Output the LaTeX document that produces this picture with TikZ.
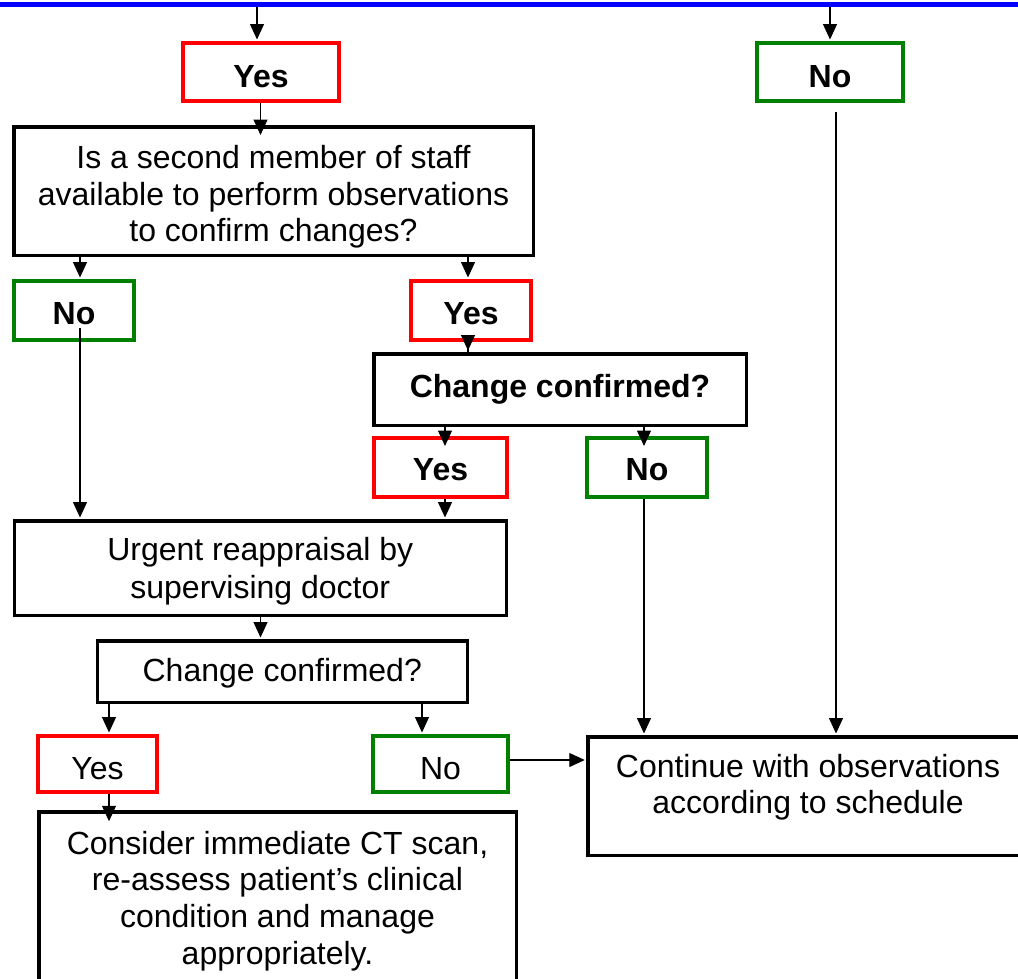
\documentclass[tikz,border=0pt]{standalone}
\usepackage{fontspec}
\setmainfont{Liberation Sans}
\usetikzlibrary{arrows.meta,calc}
\definecolor{fcred}{RGB}{255,0,0}
\definecolor{fcgreen}{RGB}{0,128,0}
\definecolor{fcblue}{RGB}{0,0,255}
\begin{document}
\begin{tikzpicture}[x=1pt,y=-1pt,
  every node/.style={inner sep=0pt, align=center, font=\fontsize{32}{36}\selectfont},
  boldtext/.style={font=\fontsize{32}{36}\selectfont\bfseries},
  blackbox/.style={draw=black, line width=3.5pt, rectangle},
  yesbox/.style={draw=fcred, line width=4pt, rectangle},
  nobox/.style={draw=fcgreen, line width=4pt, rectangle},
  conn/.style={line width=1.2pt, shorten >=1.5pt, -{Triangle[length=15.5pt,width=14pt]}},
  deepconn/.style={conn, shorten >=-10pt},
]
\useasboundingbox (0,0) rectangle (1018,978);
\clip (0,0) rectangle (1018,978);
\fill[fcblue] (0,1.5) rectangle (1018,7);

% top-level answers
\node[yesbox, boldtext, minimum width=156pt, minimum height=58pt, text height=31pt] (yes1) at (261,72) {Yes};
\node[nobox, boldtext, minimum width=146pt, minimum height=58pt, text height=31pt] (no1) at (830,72) {No};

% question
\node[blackbox, minimum width=519.5pt, minimum height=128.5pt, text height=108pt,
      font=\fontsize{32}{36.5}\selectfont] (Q) at (273.5,191)
  {Is a second member of staff\\available to perform observations\\to confirm changes?};

\node[nobox, boldtext, minimum width=120pt, minimum height=59pt, text height=29pt] (no2) at (74,310.5) {No};
\node[yesbox, boldtext, minimum width=120pt, minimum height=59pt, text height=29pt] (yes2) at (471,310.5) {Yes};

\node[blackbox, boldtext, minimum width=372.5pt, minimum height=71.5pt] (cc1) at (560,389.5) {Change confirmed?};

\node[yesbox, boldtext, minimum width=133pt, minimum height=59pt, text height=27pt] (yes3) at (440.5,467.5) {Yes};
\node[nobox, boldtext, minimum width=120pt, minimum height=59pt, text height=27pt] (no3) at (647,467.5) {No};

\node[blackbox, minimum width=492pt, minimum height=94.5pt, text height=67pt,
      font=\fontsize{32}{37.5}\selectfont] (urgent) at (260.25,568)
  {Urgent reappraisal by\\supervising doctor};

\node[blackbox, minimum width=370pt, minimum height=61.5pt, text height=26pt] (cc2) at (282.25,671.5) {Change confirmed?};

\node[yesbox, minimum width=119pt, minimum height=56pt, text height=31pt] (yes4) at (97.5,764) {Yes};
\node[nobox, minimum width=135pt, minimum height=56pt, text height=31pt] (no4) at (440.5,764) {No};

\node[blackbox, minimum width=440pt, minimum height=118.5pt, text depth=24pt] (cont) at (808,796)
  {Continue with observations\\according to schedule};

\node[blackbox, minimum width=477.5pt, minimum height=178pt,
      font=\fontsize{32}{36.7}\selectfont] (consider) at (277.5,901)
  {Consider immediate CT scan,\\re-assess patient’s clinical\\condition and manage\\appropriately.};

% helper coordinates for connector positions
\coordinate (tl) at (257,7);
\coordinate (tr) at (830,7);
\coordinate (xa) at (80,0);
\coordinate (xb) at (468,0);
\coordinate (xc) at (445,0);
\coordinate (xd) at (644,0);
\coordinate (xe) at (836,0);
\coordinate (xf) at (260.5,0);
\coordinate (xg) at (109,0);
\coordinate (xh) at (422,0);
\coordinate (yh) at (0,760);

% connectors
\draw[conn] (tl) -- (tl |- yes1.north);
\draw[conn] (tr) -- (tr |- no1.north);
\draw[deepconn] (yes1.south -| xf) -- (Q.north -| xf);
\draw[conn] (Q.south -| xa) -- (no2.north -| xa);
\draw[conn] (Q.south -| xb) -- (yes2.north -| xb);
\draw[conn, shorten <=-14pt] (yes2.south -| xb) -- (cc1.north -| xb);
\draw[conn, shorten <=-14pt] (no2.south -| xa) -- (urgent.north -| xa);
\draw[deepconn] (cc1.south -| xc) -- (yes3.north -| xc);
\draw[deepconn] (cc1.south -| xd) -- (no3.north -| xd);
\draw[conn] (yes3.south -| xc) -- (urgent.north -| xc);
\draw[conn] (no3.south -| xd) -- (cont.north -| xd);
\draw[conn, shorten <=9pt] (no1.south -| xe) -- (cont.north -| xe);
\draw[conn] (urgent.south -| xf) -- (cc2.north -| xf);
\draw[conn] (cc2.south -| xg) -- (yes4.north -| xg);
\draw[conn] (cc2.south -| xh) -- (no4.north -| xh);
\draw[conn, shorten >=-11pt] (yes4.south -| xg) -- (consider.north -| xg);
\draw[conn] (no4.east |- yh) -- (cont.west |- yh);
\end{tikzpicture}
\end{document}
